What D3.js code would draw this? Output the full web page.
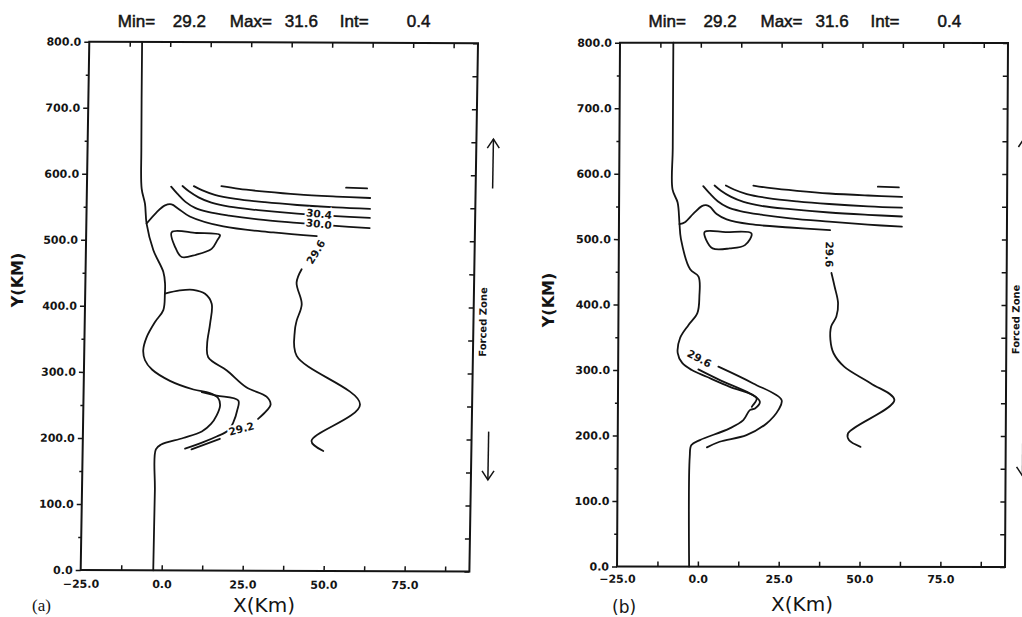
<!DOCTYPE html>
<html>
<head>
<meta charset="utf-8">
<script src="https://cdn.jsdelivr.net/npm/d3@7"></script>
<style>
  body { margin: 0; background: #fff; }
  svg { display: block; }
</style>
</head>
<body>
<svg id="chart" width="1022" height="617"></svg>
<script>
// ticks (km)
var xLabelTicks = [-25, 0, 25, 50, 75];
var xMinorTicks = [-12.5, 0, 12.5, 25, 37.5, 50, 62.5, 75, 87.5];
var yLabelTicks = [0, 100, 200, 300, 400, 500, 600, 700, 800];
var yMinorTicks = [50, 150, 250, 350, 450, 550, 650, 750];
var titleParts = ["Min=", "29.2", "Max=", "31.6", "Int=", "0.4"];

// contours shared by both panels, [x km, y km]
var c316 = [[55, 580.5], [61.5, 579.5]];
var c312 = [[16.5, 582], [22, 578], [30, 574], [40, 570], [52, 567], [62.5, 565]];
var c308 = [[8, 582], [10.5, 576], [14.5, 569], [21, 563], [30, 558], [40, 554], [52, 550.5], [62.5, 548.5]];
var c304 = [[4.5, 582], [6.5, 574], [9.5, 565], [13.5, 557], [19, 551], [28, 546], [40, 541], [52, 537.5], [62.5, 535]];
var c300 = [[1, 581], [3, 570], [5.5, 558], [8.5, 549], [12.5, 543], [19, 537.5], [28, 532], [40, 527], [52, 522.5], [62.5, 519.5]];

// panel (a)
var coastA = [[-8.7, 800], [-8.4, 640], [-8.1, 578], [-7, 555], [-6.4, 525], [-4.2, 485], [-1, 452], [-0.4, 434],
  [-0.4, 419], [-0.8, 394], [-3.3, 376], [-5.8, 353], [-6.8, 333], [-6.2, 318], [-4, 304], [1.6, 287],
  [8.9, 274], [14, 268.5], [16.6, 261], [17.2, 250], [16.2, 235], [14.5, 222], [11.7, 210.5], [6, 200.5],
  [-0.8, 190.5], [-2.4, 183], [-2.5, 120], [-2.6, 0]];
var hump296A = [[-6.4, 525], [-3.3, 542.5], [-0.8, 552.6], [1.2, 554.2], [3.3, 547.7], [6.9, 536], [17.3, 521], [32.7, 512.3], [46.2, 507]];
var east296A = [[41.7, 456.8], [40.2, 436.5], [41.9, 403.8], [40.4, 378.5], [39.9, 363.4], [40.6, 325.5], [60.4, 252.4], [45.6, 196.8], [49.3, 181.7]];
var c292A = [[-0.4, 419], [4.2, 424], [8.3, 425], [12, 419], [14.1, 404], [13.7, 373.6], [12.9, 343.4], [13.3, 323],
  [19.1, 303], [25.2, 277.7], [31.5, 263.6], [32.8, 251.5], [31.6, 242.4], [29, 229.8]];
var c292TailA = [[17.3, 199.5], [8.6, 183.3]];
var branchA = [[11.5, 270], [16.1, 265], [22.8, 257.5], [22.5, 242.4], [21.4, 224.7], [19.8, 212.1], [16.3, 203], [12.2, 194.4], [6.6, 184.4]];
var blobA = [[1.4, 512], [9, 511], [16.3, 508], [15.5, 500], [13.8, 487], [9, 478], [4.6, 474.5], [2.5, 490]];
var labelsA = [
  {t: "30.4", x: 46.8, y: 540.6, a: 6},
  {t: "30.0", x: 46.8, y: 525.5, a: 6},
  {t: "29.6", x: 46, y: 483, a: -60},
  {t: "29.2", x: 23.9, y: 214.7, a: -15}
];

// panel (b)
var coastB = [[-8.5, 800], [-8.5, 640], [-8.5, 576], [-6.9, 556], [-6.3, 525], [-5.8, 500], [-2.9, 454], [-0.3, 443],
  [0, 413], [-0.6, 387], [-3.3, 369], [-5.9, 349], [-6.6, 326], [-5.2, 311], [-2.2, 300.1], [2.4, 289.9],
  [9.6, 274.6], [16.8, 261.9], [18.9, 251.7], [17.4, 241.6], [15.8, 239], [13.8, 223.7], [9.6, 211.1],
  [0.4, 193.2], [-2.2, 185.6], [-2.7, 167.7], [-2.7, 0]];
var hump296B = [[-6.3, 523], [-4.6, 526], [-2, 539], [0.6, 550.6], [1.9, 552], [3.1, 549.5], [5.2, 538.4], [8.3, 530.3], [15.5, 523], [27.9, 518], [40.3, 514]];
var east296B = [[40.8, 448.6], [41.8, 428], [42.9, 402.6], [42.4, 382], [40.8, 367], [40.6, 346.5], [41.6, 326], [44.9, 305.6], [53.2, 280], [60.5, 254.6], [46.2, 203.6], [46.5, 193.4], [50.1, 183.1]];
var outer296B = [[6, 305.4], [16.8, 279.8], [25.6, 254.6], [24.6, 239], [21, 218.7], [14.8, 200.9], [6.5, 190.7], [2.6, 182.1]];
var innerB = [[-0.2, 301.2], [6.5, 284.9], [15.8, 264.5], [17.9, 256.9], [16.8, 246.7], [16.4, 244.1]];
var blobB = [[1.5, 511], [8, 511], [16, 509], [14, 491], [9.3, 486], [4, 486], [2, 499]];
var labelsB = [
  {t: "29.6", x: 40.1, y: 477, a: 90},
  {t: "29.6", x: 0.1, y: 317.7, a: 28}
];

var svg = d3.select("#chart");
var ink = "#141414";

function drawPanel(p) {
  var g = svg.append("g")
    .attr("transform", "matrix(1," + p.tilt + "," + p.skew + ",1," + p.x0 + "," + p.y0 + ")");

  var x = d3.scaleLinear().domain([-25, 95]).range([0, p.w]);
  var y = d3.scaleLinear().domain([0, 800]).range([p.h, 0]);
  var fmt = d3.format(".1f");

  function tickStyle(sel) {
    sel.attr("font-family", "'DejaVu Sans', sans-serif").attr("font-size", 11).attr("font-weight", "bold");
    sel.selectAll("line").attr("stroke", ink).attr("stroke-width", 1.5);
    sel.selectAll("text").attr("fill", ink);
    sel.select(".domain").remove();
  }

  // minor / inner ticks
  g.append("g").attr("transform", "translate(0," + p.h + ")")
    .call(d3.axisBottom(x).tickValues(xMinorTicks).tickSizeInner(-5).tickSizeOuter(0).tickFormat(""))
    .call(tickStyle);
  g.append("g")
    .call(d3.axisTop(x).tickValues(xMinorTicks).tickSizeInner(-5).tickSizeOuter(0).tickFormat(""))
    .call(tickStyle);
  g.append("g")
    .call(d3.axisLeft(y).tickValues(yMinorTicks).tickSizeInner(3).tickSizeOuter(0).tickFormat(""))
    .call(tickStyle);
  g.append("g").attr("transform", "translate(" + p.w + ",0)")
    .call(d3.axisRight(y).tickValues(yLabelTicks.concat(yMinorTicks)).tickSizeInner(-5).tickSizeOuter(0).tickFormat(""))
    .call(tickStyle);

  // labelled axes
  g.append("g")
    .call(d3.axisLeft(y).tickValues(yLabelTicks).tickSize(5).tickPadding(3).tickFormat(fmt))
    .call(tickStyle);
  g.append("g").attr("transform", "translate(0," + p.h + ")")
    .call(d3.axisBottom(x).tickValues(xLabelTicks).tickSize(0).tickPadding(p.xPad).tickFormat(fmt))
    .call(tickStyle);

  // frame
  g.append("rect").attr("width", p.w).attr("height", p.h)
    .attr("fill", "none").attr("stroke", ink).attr("stroke-width", 2);

  var line = d3.line().x(function(d) { return x(d[0]); }).y(function(d) { return y(d[1]); })
    .curve(d3.curveCatmullRom.alpha(0.5));
  var closed = d3.line().x(function(d) { return x(d[0]); }).y(function(d) { return y(d[1]); })
    .curve(d3.curveCatmullRomClosed.alpha(0.5));

  g.selectAll("path.contour").data(p.lines).enter().append("path")
    .attr("class", "contour")
    .attr("d", function(d) { return line(d); })
    .attr("fill", "none").attr("stroke", ink).attr("stroke-width", 1.8)
    .attr("stroke-linejoin", "round").attr("stroke-linecap", "round");

  g.selectAll("path.blob").data(p.blobs).enter().append("path")
    .attr("class", "blob")
    .attr("d", function(d) { return closed(d); })
    .attr("fill", "none").attr("stroke", ink).attr("stroke-width", 1.8);

  g.selectAll("text.clab").data(p.labels).enter().append("text")
    .attr("class", "clab")
    .attr("transform", function(d) { return "translate(" + x(d.x) + "," + y(d.y) + ") rotate(" + d.a + ")"; })
    .attr("text-anchor", "middle").attr("dy", "0.35em")
    .attr("font-family", "'DejaVu Sans', sans-serif").attr("font-size", 10.5).attr("font-weight", "bold")
    .attr("fill", ink).attr("stroke", "#fff").attr("stroke-width", 4).attr("paint-order", "stroke")
    .text(function(d) { return d.t; });

  // forced zone annotation
  var ax = p.w + 17;
  var arrows = [[580, 655], [212, 139]];
  arrows.forEach(function(a) {
    var y0 = y(a[0]), y1 = y(a[1]), dir = y1 < y0 ? 1 : -1;
    g.append("line").attr("x1", ax).attr("x2", ax).attr("y1", y0).attr("y2", y1)
      .attr("stroke", ink).attr("stroke-width", 1.5);
    g.append("path")
      .attr("d", "M" + (ax - 6) + "," + (y1 + dir * 9) + "L" + ax + "," + y1 + "L" + (ax + 6) + "," + (y1 + dir * 9))
      .attr("fill", "none").attr("stroke", ink).attr("stroke-width", 1.5);
  });
  g.append("text")
    .attr("transform", "translate(" + (p.w + 13) + "," + y(378) + ") rotate(-90)")
    .attr("text-anchor", "middle")
    .attr("font-family", "'DejaVu Sans', sans-serif").attr("font-size", 10).attr("font-weight", "bold")
    .attr("fill", ink).text("Forced Zone");

  // title
  var offs = [0, 55, 112, 167, 222, 289];
  svg.append("g").selectAll("text").data(titleParts).enter().append("text")
    .attr("x", function(d, i) { return p.x0 + 28.5 + offs[i]; })
    .attr("y", 27)
    .attr("font-family", "'Liberation Sans', Arial, sans-serif").attr("font-size", 17)
    .attr("fill", ink).attr("stroke", ink).attr("stroke-width", 0.5)
    .text(function(d) { return d; });

  // axis titles
  svg.append("text").attr("x", p.xTitle[0]).attr("y", p.xTitle[1])
    .attr("text-anchor", "middle")
    .attr("font-family", "'DejaVu Sans', sans-serif").attr("font-size", 20)
    .attr("fill", ink).text("X(Km)");
  svg.append("text")
    .attr("transform", "translate(" + p.yTitle[0] + "," + p.yTitle[1] + ") rotate(-90)")
    .attr("text-anchor", "middle").attr("dy", "0.35em")
    .attr("font-family", "'DejaVu Sans', sans-serif").attr("font-size", 16).attr("font-weight", "bold")
    .attr("fill", ink).text("Y(KM)");
  svg.append("text").attr("x", p.tag[0]).attr("y", p.tag[1])
    .attr("font-family", p.tagFont).attr("font-size", 17)
    .attr("fill", ink).text(p.tagText);
}

drawPanel({
  x0: 89.3, y0: 41.7, w: 388.7, h: 528.3, skew: -0.0163, tilt: 0.004, xPad: 10,
  lines: [c316, c312, c308, c304, c300, coastA, hump296A, east296A, c292A, c292TailA, branchA],
  blobs: [blobA], labels: labelsA,
  xTitle: [264, 612], yTitle: [17, 280], tag: [32, 611], tagText: "(a)", tagFont: "'Liberation Serif', serif"
});

drawPanel({
  x0: 620, y0: 42.7, w: 388, h: 523.8, skew: -0.0057, tilt: 0.001, xPad: 8.5,
  lines: [c316, c312, c308, c304, c300, coastB, hump296B, east296B, outer296B, innerB],
  blobs: [blobB], labels: labelsB,
  xTitle: [802, 611], yTitle: [548, 300], tag: [612, 613], tagText: "(b)", tagFont: "'DejaVu Sans', sans-serif"
});
</script>
</body>
</html>
